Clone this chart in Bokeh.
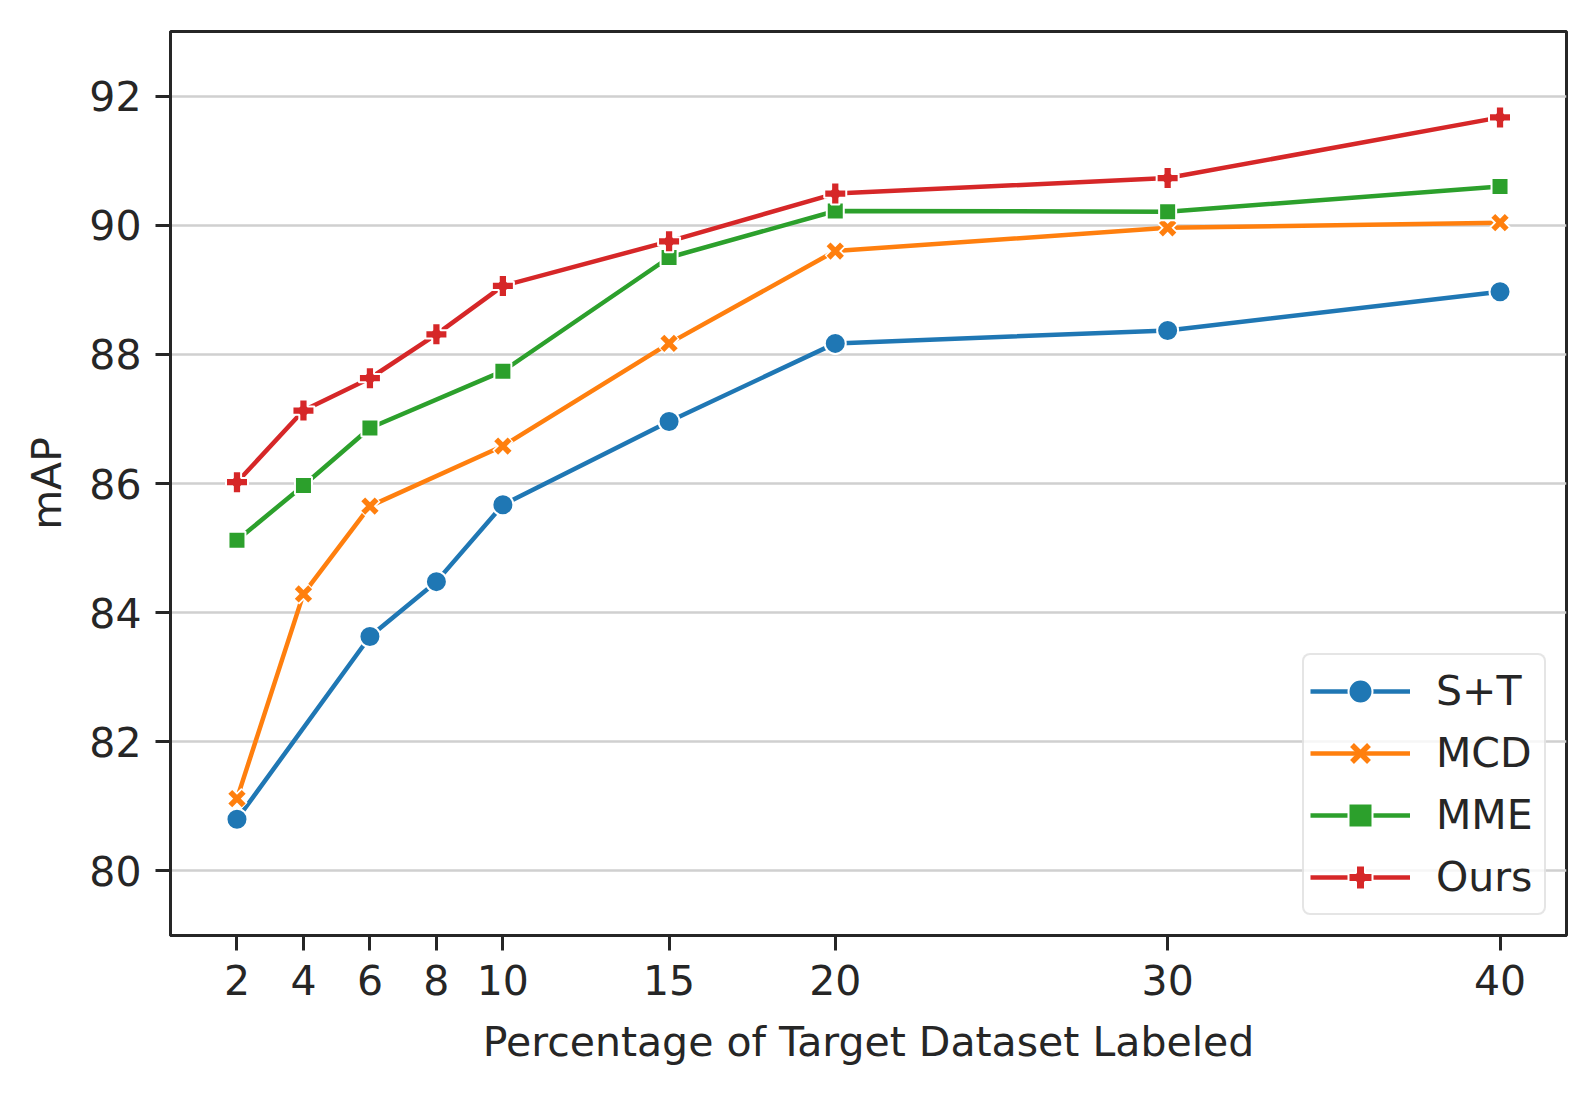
from bokeh.plotting import figure
from bokeh.models import FixedTicker, Legend, LegendItem, Range1d
from bokeh.embed import file_html
from bokeh.resources import INLINE

# ---- data ----
x_st = [2, 6, 8, 10, 15, 20, 30, 40]
y_st = [80.80, 83.63, 84.48, 85.67, 86.96, 88.17, 88.37, 88.97]

x_mcd = [2, 4, 6, 10, 15, 20, 30, 40]
y_mcd = [81.12, 84.29, 85.65, 86.58, 88.17, 89.60, 89.96, 90.04]

x_mme = [2, 4, 6, 10, 15, 20, 30, 40]
y_mme = [85.12, 85.97, 86.86, 87.74, 89.50, 90.22, 90.21, 90.60]

x_ours = [2, 4, 6, 8, 10, 15, 20, 30, 40]
y_ours = [86.02, 87.13, 87.63, 88.31, 89.06, 89.75, 90.49, 90.73, 91.67]

x_ticks = [2, 4, 6, 8, 10, 15, 20, 30, 40]
y_ticks = [80, 82, 84, 86, 88, 90, 92]

names = ["S+T", "MCD", "MME", "Ours"]
colors = ["#1f77b4", "#ff7f0e", "#2ca02c", "#d62728"]

FONT = "DejaVu Sans"
TXT = "#262626"
FS = "41px"
LW = 4.5

p = figure(frame_width=1396, frame_height=904,
           min_border_left=170, min_border_top=31, min_border_right=12, min_border_bottom=140,
           x_range=Range1d(0, 42), y_range=Range1d(79, 93),
           output_backend="svg", toolbar_location=None)

p.background_fill_color = "white"
p.border_fill_color = "white"
p.outline_line_color = TXT
p.outline_line_width = 3

p.xgrid.visible = False
p.ygrid.grid_line_color = "#d0d0d0"
p.ygrid.grid_line_width = 2.5

for ax in (p.xaxis[0], p.yaxis[0]):
    ax.axis_line_color = TXT
    ax.axis_line_width = 3
    ax.major_tick_line_color = TXT
    ax.major_tick_line_width = 3
    ax.major_tick_out = 15
    ax.major_tick_in = 0
    ax.minor_tick_line_color = None
    ax.major_label_text_font = FONT
    ax.major_label_text_font_size = FS
    ax.major_label_text_color = TXT
    ax.axis_label_text_font = FONT
    ax.axis_label_text_font_size = FS
    ax.axis_label_text_font_style = "normal"
    ax.axis_label_text_color = TXT
    ax.major_label_standoff = 14

p.xaxis.ticker = FixedTicker(ticks=x_ticks)
p.yaxis.ticker = FixedTicker(ticks=y_ticks)
p.xaxis.axis_label = "Percentage of Target Dataset Labeled"
p.yaxis.axis_label = "mAP"
p.xaxis.axis_label_standoff = 20
p.yaxis.axis_label_standoff = 15

items = []

# S+T : circles
c = colors[0]
l = p.line(x_st, y_st, line_color=c, line_width=LW)
m = p.scatter(x_st, y_st, marker="circle", size=21, fill_color=c, line_color="white", line_width=2)
items.append(LegendItem(label=names[0], renderers=[l, m]))

# MCD : X
c = colors[1]
l = p.line(x_mcd, y_mcd, line_color=c, line_width=LW)
p.scatter(x_mcd, y_mcd, marker="x", size=21, line_color="white", line_width=9)
m = p.scatter(x_mcd, y_mcd, marker="x", size=19, line_color=c, line_width=5.5)
items.append(LegendItem(label=names[1], renderers=[l, m]))

# MME : squares
c = colors[2]
l = p.line(x_mme, y_mme, line_color=c, line_width=LW)
m = p.scatter(x_mme, y_mme, marker="square", size=17, fill_color=c, line_color="white", line_width=2)
items.append(LegendItem(label=names[2], renderers=[l, m]))

# Ours : filled plus
c = colors[3]
l = p.line(x_ours, y_ours, line_color=c, line_width=LW)
m = p.scatter(x_ours, y_ours, marker="plus", size=22, fill_color=c, line_color="white", line_width=2)
items.append(LegendItem(label=names[3], renderers=[l, m]))

legend = Legend(items=items, location="bottom_right")
legend.margin = 20
legend.padding = 6
legend.spacing = 2
legend.glyph_width = 100
legend.glyph_height = 60
legend.label_height = 60
legend.label_width = 102
legend.label_standoff = 26
legend.label_text_font = FONT
legend.label_text_font_size = FS
legend.label_text_color = TXT
legend.border_line_color = "#cccccc"
legend.border_line_width = 2
legend.border_radius = 8
legend.background_fill_color = "white"
legend.background_fill_alpha = 0.8
p.add_layout(legend)

open("out.html", "w").write(file_html(p, INLINE))
